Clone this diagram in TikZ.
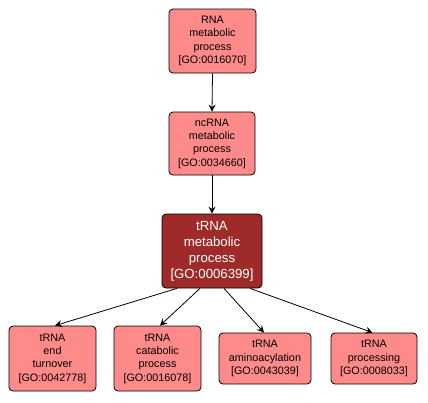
\documentclass[tikz,border=0pt]{standalone}
\usepackage{fontspec}
\setmainfont{Liberation Sans}
\usetikzlibrary{arrows.meta}
\definecolor{lightbox}{RGB}{255,138,138}
\definecolor{darkbox}{RGB}{158,42,42}
\begin{document}
\begin{tikzpicture}[x=1pt,y=-1pt,
  gobox/.style={draw=black,line width=0.8pt,rounded corners=4pt,fill=lightbox,align=center,
    inner sep=0pt,font=\fontsize{10.8}{13.3}\selectfont,text=black},
  hibox/.style={draw=black,line width=0.8pt,rounded corners=4pt,fill=darkbox,align=center,
    inner sep=0pt,font=\fontsize{13.2}{16}\selectfont,text=white},
  edge/.style={draw=black,line width=0.8pt,-{Stealth[length=7pt,width=7pt,inset=2.5pt]}}]
\useasboundingbox (0,0) rectangle (428,402);
\fill[white] (0,0) rectangle (428,402);
\node[gobox,minimum width=87pt,minimum height=64pt] (rna) at (212.5,41) {RNA\\metabolic\\process\\{[GO:0016070]}};
\node[gobox,minimum width=86pt,minimum height=63pt] (ncrna) at (212,143.5) {ncRNA\\metabolic\\process\\{[GO:0034660]}};
\node[hibox,minimum width=100pt,minimum height=74pt] (trna) at (212,251) {tRNA\\metabolic\\process\\{[GO:0006399]}};
\node[gobox,minimum width=87pt,minimum height=65pt] (end) at (52.5,358.5) {tRNA\\end\\turnover\\{[GO:0042778]}};
\node[gobox,minimum width=87pt,minimum height=65pt] (cat) at (157.5,358.5) {tRNA\\catabolic\\process\\{[GO:0016078]}};
\node[gobox,minimum width=92pt,minimum height=51pt] (amino) at (265,358.5) {tRNA\\aminoacylation\\{[GO:0043039]}};
\node[gobox,minimum width=86pt,minimum height=51pt] (proc) at (374,358.5) {tRNA\\processing\\{[GO:0008033]}};
\draw[edge] (rna.south) -- (ncrna.north);
\draw[edge] (ncrna.south) -- (trna.north);
\draw[edge] ([xshift=-35pt]trna.south) -- ([xshift=2.5pt]end.north);
\draw[edge] ([xshift=-12pt]trna.south) -- ([xshift=2.5pt]cat.north);
\draw[edge] ([xshift=12pt]trna.south) -- ([xshift=-1pt]amino.north);
\draw[edge] ([xshift=38pt]trna.south) -- ([xshift=-1.5pt]proc.north);
\end{tikzpicture}
\end{document}
